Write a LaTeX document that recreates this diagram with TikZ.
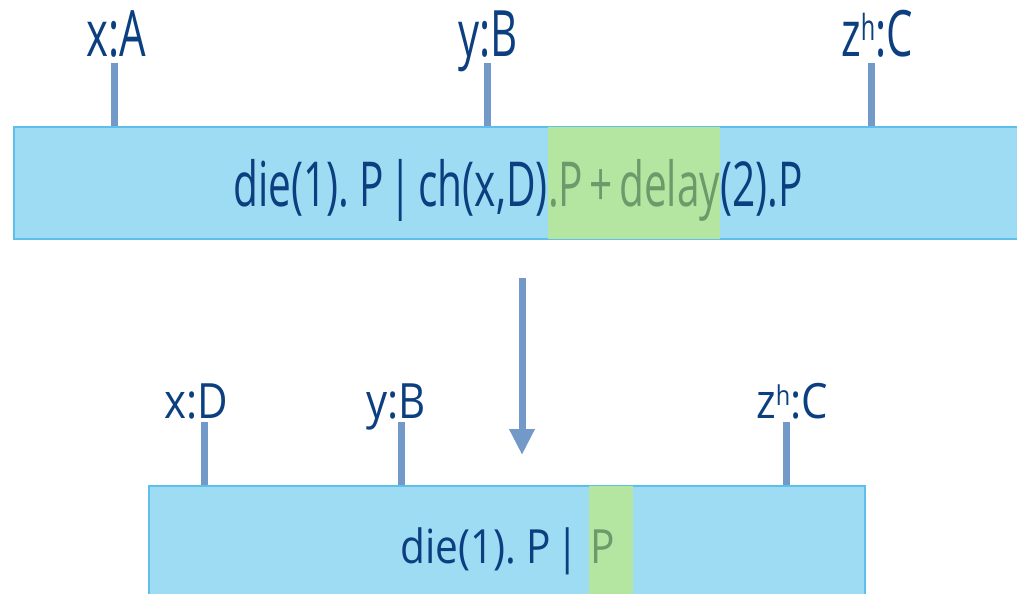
\documentclass[tikz,border=0pt]{standalone}
\usepackage{fontspec}
\newfontfamily\condensed{Open Sans}[FakeStretch=0.655,WordSpace=0.6]
\usetikzlibrary{arrows.meta,backgrounds}
\definecolor{ink}{HTML}{0C3F80}
\definecolor{sage}{HTML}{6B9A6B}
\definecolor{sky}{HTML}{9EDCF3}
\definecolor{edge}{HTML}{5DBFEA}
\definecolor{leaf}{HTML}{B5E6A1}
\definecolor{steel}{HTML}{7399C9}
\newcommand{\squash}[1]{\scalebox{1}[0.76]{#1}}
\newcommand{\hsup}{\raisebox{17pt}{\fontsize{36}{36}\selectfont h}}
\begin{document}
\begin{tikzpicture}[x=1pt,y=-1pt,
  lbl/.style={text=ink, inner sep=0pt, anchor=base,
    font=\condensed\fontsize{64}{70}\selectfont},
  expr/.style={text=ink, inner sep=0pt, anchor=base west,
    font=\condensed\fontsize{62}{70}\selectfont},
  hl/.style={expr, text=sage},
  box/.style={draw=edge, line width=2pt, fill=sky, inner sep=0pt, anchor=north west},
  tick/.style={draw=steel, line width=7pt},
  flow/.style={draw=steel, line width=7pt, -{Triangle[width=24pt,length=26pt]}}]
\useasboundingbox (0,0) rectangle (1017,594);
\clip (0,0) rectangle (1017,594);

% expression before the step
\node[expr] (t1) at (233,206) {die(1). P | ch(x,D)};
\node[hl]   (t2) at (t1.base east) {.P + delay};
\node[expr] (t3) at (t2.base east) {(2).P};

% expression after the step
\node[expr] (b1) at (400,563) {\squash{die(1). P |}};
\node[hl]   (b2) at ([xshift=11pt]b1.base east) {\squash{P}};

\begin{pgfonlayer}{background}
  \node[box, minimum width=1030pt, minimum height=112pt] (top) at (13,126) {};
  \node[box, minimum width=716pt, minimum height=112pt] (bot) at (148,485) {};
  \fill[leaf] ([yshift=-1pt]t2.west |- top.north) rectangle ([yshift=1pt]t2.east |- top.south);
  \fill[leaf] ([xshift=-1pt,yshift=-1pt]b2.west |- bot.north) rectangle ([xshift=18pt]b2.east |- bot.south);
\end{pgfonlayer}

% channel labels of the first state
\node[lbl] (la) at (116,57) {x:A};
\node[lbl] (lb) at (488,57) {y:B};
\node[lbl] (lc) at (877,57) {z\hsup:C};
\coordinate (ka) at (114,63);
\coordinate (kb) at (487,63);
\coordinate (kc) at (871,63);
\draw[tick] (ka) -- (ka |- top.north);
\draw[tick] (kb) -- (kb |- top.north);
\draw[tick] (kc) -- (kc |- top.north);

% channel labels of the second state
\node[lbl] (ld) at (196,418) {\squash{x:D}};
\node[lbl] (le) at (396,418) {\squash{y:B}};
\node[lbl] (lf) at (792,418) {\squash{z\hsup:C}};
\coordinate (kd) at (204,422);
\coordinate (ke) at (401,422);
\coordinate (kf) at (786,422);
\draw[tick] (kd) -- (kd |- bot.north);
\draw[tick] (ke) -- (ke |- bot.north);
\draw[tick] (kf) -- (kf |- bot.north);

% transition
\coordinate (s0) at (522,278);
\coordinate (s1) at (522,455);
\draw[flow] (s0) -- (s1);
\end{tikzpicture}
\end{document}
